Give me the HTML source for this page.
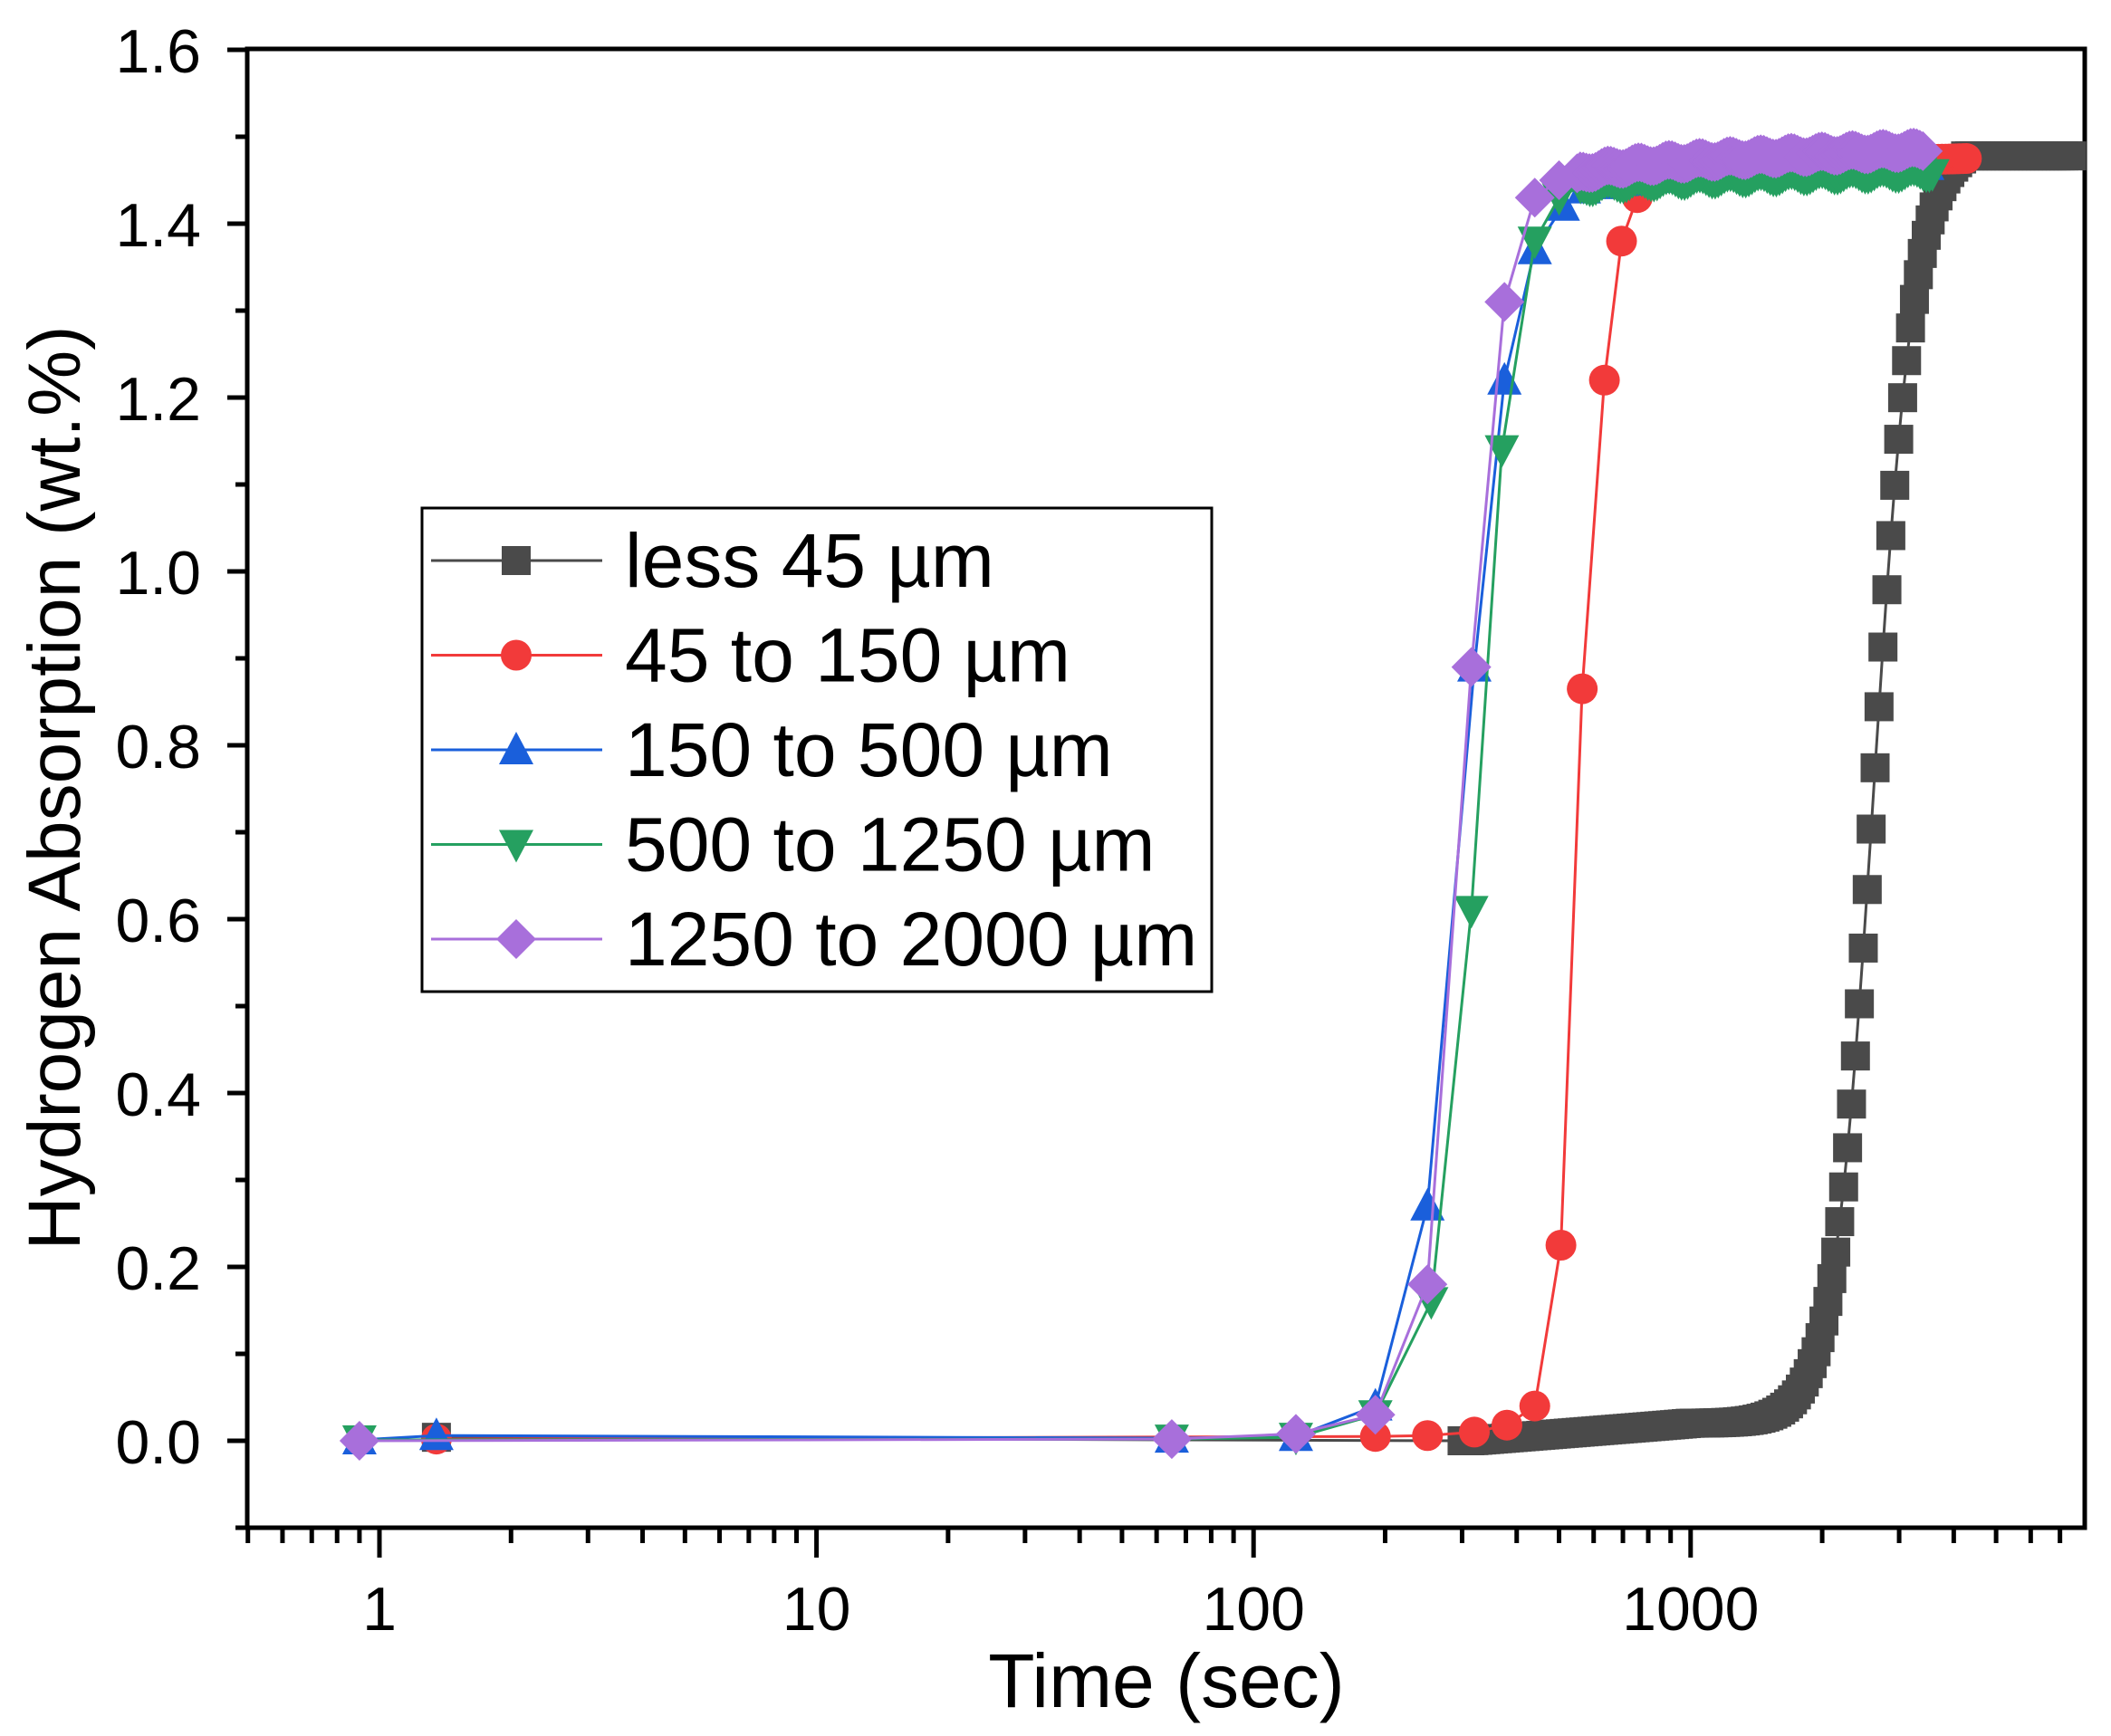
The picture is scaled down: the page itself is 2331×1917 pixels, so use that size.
<!DOCTYPE html>
<html><head><meta charset="utf-8"><style>
html,body{margin:0;padding:0;background:#fff}
svg{display:block}
text{font-family:"Liberation Sans",Arial,sans-serif;fill:#000}
</style></head><body>
<svg id="s" width="2331" height="1917" viewBox="0 0 2331 1917" xmlns="http://www.w3.org/2000/svg"></svg>
<script>
const s=document.getElementById('s');
const X0=419,DEC=482.6,Y0=1591,YS=960;
const X=t=>X0+DEC*Math.log10(t), Y=v=>Y0-v*YS;
let h='';
h+=`<rect x="273" y="54" width="2029" height="1633" fill="none" stroke="#000" stroke-width="5"/>`;
for(let i=-1;i<=16;i++){const v=i/10,y=Y(v);const maj=i%2==0;
 h+=`<line x1="${maj?251:260}" x2="273" y1="${y}" y2="${y}" stroke="#000" stroke-width="5"/>`;
 if(maj&&i>=0)h+=`<text x="222" y="${y+25}" font-size="68" text-anchor="end">${v.toFixed(1)}</text>`;}
for(let d=-1;d<=3;d++)for(let m=1;m<=9;m++){const t=m*Math.pow(10,d);const x=X(t);if(x<273||x>2302)continue;
 const maj=m==1;h+=`<line x1="${x}" x2="${x}" y1="1687" y2="${maj?1720:1704}" stroke="#000" stroke-width="5"/>`;
 if(maj)h+=`<text x="${x}" y="1800" font-size="68" text-anchor="middle">${t}</text>`;}
h+=`<text x="1288" y="1885" font-size="84" text-anchor="middle">Time (sec)</text>`;
h+=`<text transform="translate(88,870) rotate(-90)" font-size="82" text-anchor="middle">Hydrogen Absorption (wt.%)</text>`;
function mk(type,x,y,c){const r=16;
 if(type=='s')return `<rect x="${x-r}" y="${y-r}" width="${2*r}" height="${2*r}" fill="${c}"/>`;
 if(type=='c')return `<circle cx="${x}" cy="${y}" r="${r+1}" fill="${c}"/>`;
 if(type=='u')return `<polygon points="${x},${y-r-4} ${x+r+3},${y+r} ${x-r-3},${y+r}" fill="${c}"/>`;
 if(type=='d')return `<polygon points="${x},${y+r+4} ${x+r+3},${y-r} ${x-r-3},${y-r}" fill="${c}"/>`;
 return `<polygon points="${x},${y-r-6} ${x+r+6},${y} ${x},${y+r+6} ${x-r-6},${y}" fill="${c}"/>`;}
function series(pts,type,c){let p=pts.map(q=>X(q[0]).toFixed(1)+','+Y(q[1]).toFixed(1)).join(' ');
 let o=`<polyline points="${p}" fill="none" stroke="${c}" stroke-width="3"/>`;
 pts.forEach(q=>o+=mk(type,X(q[0]),Y(q[1]),c));return o;}
function plateau(a,b,v0,v1,step,jit){const r=[];const la=Math.log10(a),lb=Math.log10(b);for(let l=la;l<=lb;l+=step){const f=(l-la)/(lb-la);r.push([Math.pow(10,l),v0+(v1-v0)*Math.sqrt(f)+(jit?jit*Math.sin(l*90):0)]);}return r;}
let bk=[[1.35,0.004]];
for(let l=Math.log10(300);l<=Math.log10(7500);l+=0.009){const t=Math.pow(10,l);
 let v=1.475/(1+Math.exp(-(l-3.42)/0.047))+0.02*Math.max(0,Math.min(1,(l-2.5)/0.5));v=Math.min(v,1.478);bk.push([t,v]);}
h+=series(bk,'s','#4a4a4a');
let rd=[[1.35,0.002],[190,0.005],[250,0.006],[320,0.01],[380,0.018],[440,0.04],[505,0.225],[565,0.865],[635,1.22],[695,1.38],[755,1.43]].concat(plateau(830,4300,1.455,1.475,0.008));
h+=series(rd,'c','#f23a3a');
let bl=[[0.9,0.001],[1.35,0.006],[65,0.003],[125,0.005],[190,0.04],[250,0.27],[320,0.89],[375,1.22],[440,1.37],[510,1.42],[570,1.44]].concat(plateau(620,3500,1.445,1.47,0.007,0.003));
h+=series(bl,'u','#1a5fdb');
let gr=[[0.9,0.001],[65,0.002],[125,0.004],[190,0.03],[255,0.16],[315,0.61],[370,1.14],[440,1.38],[500,1.43]].concat(plateau(560,3600,1.44,1.46,0.007,0.004));
h+=series(gr,'d','#25a060');
let pu=[[0.9,0],[65,0.002],[125,0.008],[190,0.03],[250,0.18],[315,0.89],[375,1.31],[440,1.43],[500,1.45]].concat(plateau(550,3400,1.455,1.485,0.007,0.003));
h+=series(pu,'m','#a86fdb');
h+=`<rect x="466" y="561" width="872" height="534" fill="#fff" stroke="#000" stroke-width="3"/>`;
const L=[['less 45 µm','s','#4a4a4a'],['45 to 150 µm','c','#f23a3a'],['150 to 500 µm','u','#1a5fdb'],['500 to 1250 µm','d','#25a060'],['1250 to 2000 µm','m','#a86fdb']];
L.forEach((e,i)=>{const y=619+i*104.5;h+=`<line x1="476" x2="665" y1="${y}" y2="${y}" stroke="${e[2]}" stroke-width="3"/>`+mk(e[1],570,y,e[2])+`<text x="690" y="${y+29}" font-size="84">${e[0]}</text>`;});
s.innerHTML=h;
</script>
</body></html>
